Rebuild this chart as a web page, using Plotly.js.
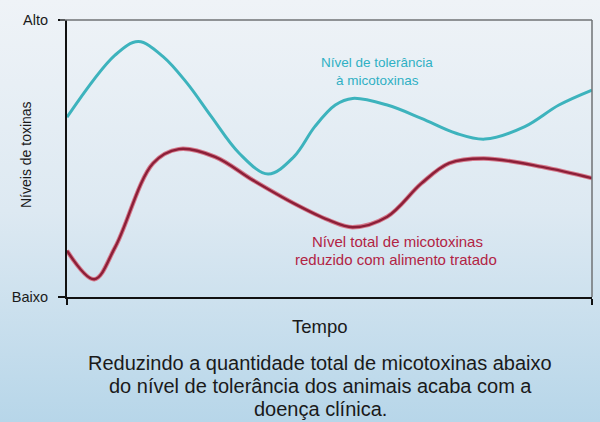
<!DOCTYPE html>
<html>
<head>
<meta charset="utf-8">
<script src="https://cdn.plot.ly/plotly-3.0.1.min.js"></script>
<style>
  html, body { margin: 0; padding: 0; }
  body {
    width: 600px; height: 422px; overflow: hidden;
    background: linear-gradient(to bottom, #eff3f7 0%, #dde9f2 50%, #b7d6e9 100%);
  }
  #chart { width: 600px; height: 422px; }
</style>
</head>
<body>
<div id="chart"></div>
<script>
// Time axis (0 = start, 100 = end) and toxin levels (0 = Baixo, 100 = Alto)
const toleranceTime  = [0, 9.2, 13.6, 18.3, 22.9, 27.5, 32.8, 38.3, 43.2, 47.2, 51.1, 54.4, 61.0, 67.5, 74.1, 79.6, 87.2, 93.7, 100];
const toleranceLevel = [64.9, 87.4, 92.2, 86.8, 77.1, 65.1, 51.9, 44.4, 50.6, 61.5, 69.3, 71.7, 69.3, 64.5, 59.1, 57.0, 61.5, 69.3, 74.7];

const totalTime  = [0, 5.2, 9.2, 16.4, 21.3, 28.2, 35.4, 43.2, 49.8, 54.4, 61.0, 67.5, 72.8, 79.4, 90.5, 100];
const totalLevel = [16.7, 6.4, 18.1, 48.3, 53.4, 50.6, 42.2, 33.8, 27.8, 25.2, 29.0, 41.0, 48.3, 50.0, 47.0, 42.9];

const levelTicks  = [0, 100];
const levelLabels = ['Baixo', 'Alto'];
const timeTicks   = [0, 100];

const toleranceLines = ['Nível de tolerância', 'à micotoxinas'];
const totalLines     = ['Nível total de micotoxinas', 'reduzido com alimento tratado'];
const yTitle = 'Níveis de toxinas';
const xTitle = 'Tempo';
const captionLines = [
  'Reduzindo a quantidade total de micotoxinas abaixo',
  'do nível de tolerância dos animais acaba com a',
  'doença clínica.'
];

const FONT = 'Liberation Sans, Arial, Helvetica, sans-serif';
const W = 600, H = 422, M = { l: 67, r: 8, t: 20, b: 125 };
const pw = W - M.l - M.r, ph = H - M.t - M.b;
// pixel position -> paper fraction
const px = x => (x - M.l) / pw;
const py = y => (H - M.b - y) / ph;

function label(text, x, y, size, color, extra) {
  return Object.assign({
    text, x: px(x), y: py(y), xref: 'paper', yref: 'paper', showarrow: false,
    xanchor: 'center', yanchor: 'middle',
    font: { family: FONT, size, color }
  }, extra || {});
}

const spline = { shape: 'spline', smoothing: 1 };
const traces = [
  { x: toleranceTime, y: toleranceLevel, mode: 'lines', hoverinfo: 'skip',
    line: Object.assign({ color: '#3db3bd', width: 3 }, spline) },
  { x: totalTime, y: totalLevel, mode: 'lines', hoverinfo: 'skip',
    line: Object.assign({ color: '#d57a8c', width: 4.4 }, spline) },
  { x: totalTime, y: totalLevel, mode: 'lines', hoverinfo: 'skip',
    line: Object.assign({ color: '#8c1f38', width: 2.4 }, spline) }
];

const layout = {
  width: W, height: H,
  margin: M,
  paper_bgcolor: 'rgba(0,0,0,0)',
  plot_bgcolor: 'rgba(0,0,0,0)',
  showlegend: false,
  font: { family: FONT, color: '#1a1a1a' },
  xaxis: {
    range: [0, 100], fixedrange: true,
    showgrid: false, zeroline: false,
    showline: true, linecolor: '#111', linewidth: 2,
    tickmode: 'array', tickvals: timeTicks, ticktext: ['', ''],
    ticks: 'outside', ticklen: 6, tickwidth: 2, tickcolor: '#111'
  },
  yaxis: {
    range: [0, 100], fixedrange: true,
    showgrid: false, zeroline: false,
    showline: true, linecolor: '#111', linewidth: 2,
    tickmode: 'array', tickvals: levelTicks, ticktext: levelLabels,
    ticks: 'outside', ticklen: 7, tickwidth: 2, tickcolor: '#111',
    ticklabelstandoff: 7,
    tickfont: { family: FONT, size: 14.5, color: '#1a1a1a' }
  },
  shapes: [
    { type: 'line', xref: 'paper', yref: 'paper', x0: px(60), x1: 1, y0: 1, y1: 1,
      line: { color: '#6f7275', width: 1.5 } },
    { type: 'line', xref: 'paper', yref: 'paper', x0: 1, x1: 1, y0: 0, y1: 1,
      line: { color: '#6f7275', width: 1.5 } }
  ],
  annotations: [
    label(toleranceLines[0], 377, 63, 13.5, '#2fb0c4'),
    label(toleranceLines[1], 377, 80, 13.5, '#2fb0c4'),
    label(totalLines[0], 397, 241, 15, '#b22444'),
    label(totalLines[1], 396, 259, 15, '#b22444'),
    label(yTitle, 26, 155, 14, '#1a1a1a', { textangle: -90 }),
    label(xTitle, 320, 326, 18.5, '#1a1a1a'),
    label(captionLines[0], 320, 363, 20, '#1a1a1a'),
    label(captionLines[1], 320, 386, 20, '#1a1a1a'),
    label(captionLines[2], 320, 409, 20, '#1a1a1a')
  ]
};

Plotly.newPlot('chart', traces, layout, { displayModeBar: false, staticPlot: true });
</script>
</body>
</html>
